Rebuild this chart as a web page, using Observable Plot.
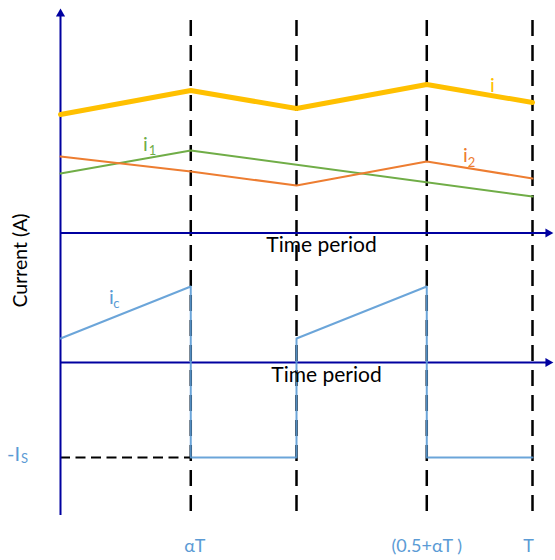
<!DOCTYPE html>
<html><head><meta charset="utf-8">
<script src="https://cdn.jsdelivr.net/npm/d3@7"></script>
<script src="https://cdn.jsdelivr.net/npm/@observablehq/plot@0.6"></script>
<style>body{margin:0;background:#fff}</style>
</head><body><div id="chart"></div>
<script>
// ---- data (time in units of T, current in arbitrary units) ----
const alpha = 0.276;
const T = 1;
const tPoints = [0, alpha, 0.5, 0.5 + alpha, T];
const iTotal = [24.8, 27.2, 25.4, 27.8, 26.0];
const i1Times = [0, alpha, T];
const i1Values = [18.9, 21.2, 16.6];
const i2Values = [20.6, 19.1, 17.7, 20.1, 18.4];
const icTimes = [0, alpha, alpha, 0.5, 0.5, 0.5 + alpha, 0.5 + alpha, T];
const icValues = [2.4, 7.6, -9.5, -9.5, 2.4, 7.6, -9.5, -9.5];
const Is = -9.5;
const upperAxisY = 12.95;
const lowerAxisY = 0;
const dashedTimes = [alpha, 0.5, 0.5 + alpha, T];
const tickLabels = ["αT", "(0.5+αT )", "T"];
const tickTimes = [alpha, 0.5 + alpha, T];

const yMin = -15.3, yMax = 35.4, xArrow = 1.033;
const navy = "#0000A0", yellow = "#FFC000", green = "#70AD47", orange = "#ED7D31", blue = "#5B9BD5";

const totalData = tPoints.map((t, i) => ({t, v: iTotal[i]}));
const i1Data = i1Times.map((t, i) => ({t, v: i1Values[i]}));
const i2Data = tPoints.map((t, i) => ({t, v: i2Values[i]}));
const icData = icTimes.map((t, i) => ({t, v: icValues[i]}));
const tickData = tickTimes.map((t, i) => ({t, label: tickLabels[i]}));
const tickShift = [4, 0, -4];

const chart = Plot.plot({
  width: 555, height: 560,
  marginLeft: 60, marginRight: 23, marginTop: 8, marginBottom: 45,
  x: {domain: [0, T], axis: null},
  y: {domain: [yMin, yMax], axis: null},
  style: {fontFamily: "Lato, sans-serif", background: "#fff"},
  marks: [
    Plot.ruleX(dashedTimes, {x: d => d, y1: 34.2, y2: -15.4, stroke: "#000", strokeWidth: 2.5, strokeDasharray: "16,9"}),
    Plot.ruleY([Is], {y: d => d, x1: 0, x2: alpha, stroke: "#000", strokeWidth: 1.8, strokeDasharray: "10,5.5"}),
    // axes
    Plot.ruleX([0], {x: d => d, y1: yMin, y2: 34.9, stroke: navy, strokeWidth: 2}),
    Plot.dot([0], {x: d => d, y: 34.87, symbol: "triangle", r: 3.4, fill: navy, stroke: null}),
    Plot.ruleY([upperAxisY, lowerAxisY], {y: d => d, x1: 0, x2: xArrow, stroke: navy, strokeWidth: 1.8}),
    Plot.dot([upperAxisY, lowerAxisY], {x: xArrow, y: d => d, symbol: "triangle", r: 3.4, rotate: 90, fill: navy, stroke: null}),
    // series
    Plot.line(totalData, {x: "t", y: "v", stroke: yellow, strokeWidth: 5, strokeLinejoin: "miter"}),
    Plot.line(i1Data, {x: "t", y: "v", stroke: green, strokeWidth: 2}),
    Plot.line(i2Data, {x: "t", y: "v", stroke: orange, strokeWidth: 2}),
    Plot.line(icData, {x: "t", y: "v", stroke: blue, strokeWidth: 2, strokeOpacity: 0.9}),
    // labels
    Plot.text(["Time period"], {x: 0.553, y: 11.75, text: d => d, fontSize: 21, fill: "#000"}),
    Plot.text(["Time period"], {x: 0.5636, y: -1.25, text: d => d, fontSize: 21, fill: "#000"}),
    Plot.text(["Current (A)"], {x: -0.0847, y: 10.2, text: d => d, fontSize: 19.5, rotate: -90, fill: "#000"}),
    ...tickData.map((d, i) => Plot.text([d], {x: "t", y: -18.4, text: "label", fontSize: 18, fill: blue, dx: tickShift[i]})),
    Plot.text(["i"], {x: 0.915, y: 27.7, text: d => d, fontSize: 20, fill: yellow}),
    Plot.text(["i"], {x: 0.180, y: 21.8, text: d => d, fontSize: 20, fill: green}),
    Plot.text(["1"], {x: 0.195, y: 21.2, text: d => d, fontSize: 13, fill: green}),
    Plot.text(["i"], {x: 0.858, y: 20.7, text: d => d, fontSize: 20, fill: orange}),
    Plot.text(["2"], {x: 0.871, y: 20.0, text: d => d, fontSize: 13, fill: orange}),
    Plot.text(["i"], {x: 0.108, y: 6.5, text: d => d, fontSize: 20, fill: blue}),
    Plot.text(["c"], {x: 0.1186, y: 5.9, text: d => d, fontSize: 13, fill: blue}),
    Plot.text(["-I"], {x: -0.0996, y: -9.25, text: d => d, fontSize: 20, fill: blue}),
    Plot.text(["S"], {x: -0.076, y: -9.6, text: d => d, fontSize: 13, fill: blue})
  ]
});
document.getElementById("chart").appendChild(chart);
</script>
</body></html>
